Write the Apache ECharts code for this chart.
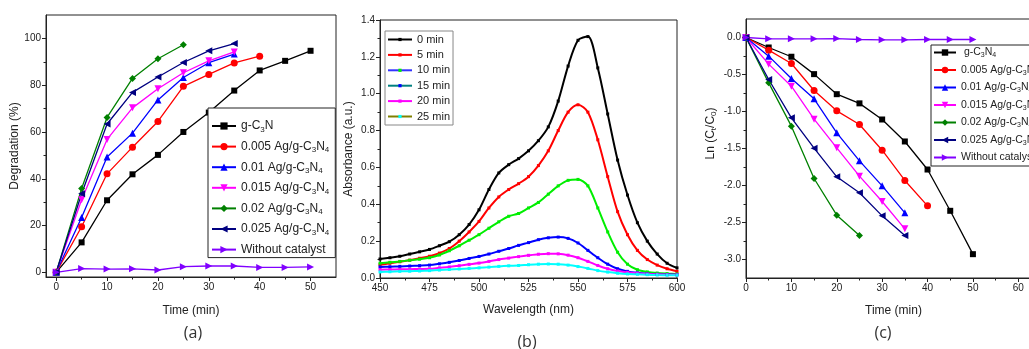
<!DOCTYPE html>
<html><head><meta charset="utf-8">
<script src="https://cdn.jsdelivr.net/npm/echarts@6/dist/echarts.min.js"></script>
<style>html,body{margin:0;padding:0;background:#fff}#c{width:1029px;height:349px}</style>
</head><body><div id="c"></div>
<script>
// ---------- Panel (a): degradation (%) vs time ----------
const timeA = [0, 5, 10, 15, 20, 25, 30, 35, 40, 45, 50];
const namesA = ['g-C3N', '0.005 Ag/g-C3N4', '0.01 Ag/g-C3N4', '0.015 Ag/g-C3N4', '0.02 Ag/g-C3N4', '0.025 Ag/g-C3N4', 'Without catalyst'];
const degG     = [0, 12.8, 30.8, 41.9, 50.2, 60.0, 68.3, 77.7, 86.3, 90.4, 94.7];
const deg005   = [0, 19.5, 42.1, 53.5, 64.5, 79.5, 84.6, 89.5, 92.4];
const deg01    = [0, 23.4, 49.3, 59.5, 73.7, 83.3, 89.6, 93.3];
const deg015   = [0, 31.0, 56.8, 70.3, 78.5, 85.3, 90.4, 94.2];
const deg02    = [0, 35.8, 66.2, 82.9, 91.3, 97.3];
const deg025   = [0, 33.6, 63.4, 76.9, 83.5, 89.7, 94.7, 97.8];
const degNone  = [0, 1.6, 1.4, 1.5, 1.0, 2.4, 2.7, 2.7, 2.1, 2.1, 2.3];
const xTicksA = [0, 10, 20, 30, 40, 50];
const xMinorA = [5, 15, 25, 35, 45];
const yTicksA = [0, 20, 40, 60, 80, 100];
const yMinorA = [10, 30, 50, 70, 90];

// ---------- Panel (b): absorbance spectra ----------
const wavelength = [450,455,460,465,470,475,480,485,490,495,500,505,510,515,520,525,530,535,540,545,550,555,560,565,570,575,580,585,590,595,600];
const namesB = ['0 min', '5 min', '10 min', '15 min', '20 min', '25 min'];
const abs0  = [0.103,0.110,0.118,0.130,0.142,0.155,0.175,0.197,0.235,0.290,0.370,0.480,0.570,0.615,0.648,0.690,0.745,0.820,0.960,1.150,1.290,1.310,1.140,0.890,0.640,0.450,0.300,0.200,0.130,0.080,0.055];
const abs5  = [0.072,0.080,0.088,0.097,0.107,0.118,0.135,0.160,0.200,0.250,0.307,0.380,0.440,0.480,0.512,0.550,0.610,0.690,0.800,0.900,0.940,0.900,0.750,0.550,0.360,0.235,0.150,0.100,0.070,0.050,0.036];
const abs10 = [0.080,0.085,0.090,0.096,0.102,0.110,0.125,0.148,0.175,0.205,0.235,0.270,0.305,0.335,0.350,0.380,0.410,0.455,0.500,0.530,0.535,0.500,0.380,0.250,0.140,0.075,0.045,0.033,0.027,0.024,0.022];
const abs15 = [0.060,0.061,0.063,0.065,0.067,0.070,0.077,0.085,0.095,0.106,0.117,0.130,0.145,0.160,0.177,0.192,0.208,0.218,0.222,0.215,0.190,0.150,0.110,0.075,0.050,0.036,0.028,0.023,0.020,0.019,0.018];
const abs20 = [0.045,0.046,0.047,0.048,0.049,0.050,0.055,0.060,0.067,0.074,0.081,0.090,0.100,0.108,0.116,0.123,0.129,0.132,0.131,0.124,0.110,0.090,0.068,0.050,0.038,0.031,0.026,0.022,0.020,0.018,0.017];
const abs25 = [0.033,0.034,0.036,0.037,0.038,0.040,0.043,0.046,0.049,0.052,0.055,0.059,0.063,0.066,0.068,0.072,0.075,0.076,0.075,0.070,0.062,0.052,0.040,0.032,0.026,0.022,0.020,0.018,0.016,0.015,0.015];

// ---------- Panel (c): ln(Ct/C0) vs time ----------
const namesC = ['g-C3N4', '0.005 Ag/g-C3N4', '0.01 Ag/g-C3N4', '0.015 Ag/g-C3N4', '0.02 Ag/g-C3N4', '0.025 Ag/g-C3N4', 'Without catalyst'];
const lnG    = [0, -0.135, -0.26, -0.495, -0.766, -0.89, -1.108, -1.405, -1.784, -2.342, -2.928];
const ln005  = [0, -0.171, -0.351, -0.716, -0.991, -1.176, -1.523, -1.932, -2.275];
const ln01   = [0, -0.252, -0.554, -0.829, -1.288, -1.667, -2.005, -2.369];
const ln015  = [0, -0.36, -0.658, -1.104, -1.491, -1.874, -2.216, -2.586];
const ln02   = [0, -0.613, -1.198, -1.905, -2.401, -2.676];
const ln025  = [0, -0.568, -1.086, -1.495, -1.883, -2.099, -2.41, -2.676];
const lnNone = [0, -0.018, -0.018, -0.018, -0.014, -0.027, -0.032, -0.032, -0.027, -0.027, -0.027];
const yTicksC = [-3, -2.5, -2, -1.5, -1, -0.5, 0];
const yMinorC = [-2.75, -2.25, -1.75, -1.25, -0.75, -0.25];

const FONT = '"Liberation Sans", Arial, sans-serif';
const AX = '#222';
const colorsAC = ['#000000', '#ff0000', '#0000ff', '#ff00ff', '#008000', '#000080', '#8000ff'];
const symbolsAC = ['rect', 'circle', 'triangle', 'triangle', 'diamond', 'triangle', 'triangle'];
const rotAC = [0, 0, 0, 180, 0, 90, -90];

function richName(name) {
  let out = '', re = /([CN])(\d)/g, last = 0, m;
  while ((m = re.exec(name))) {
    out += '{n|' + name.slice(last, m.index + 1) + '}{s|' + m[2] + '}';
    last = m.index + 2;
  }
  if (last < name.length) out += '{n|' + name.slice(last) + '}';
  return out;
}
function pairs(xs, ys) { return ys.map((v, i) => [xs[i], v]); }

const seriesA = [degG, deg005, deg01, deg015, deg02, deg025, degNone].map((d, i) => ({
  name: namesA[i], type: 'line', xAxisIndex: 0, yAxisIndex: 0,
  data: pairs(timeA, d), symbol: symbolsAC[i], symbolRotate: rotAC[i],
  symbolSize: i === 0 ? 6 : 7, itemStyle: { color: colorsAC[i] },
  lineStyle: { color: colorsAC[i], width: 1.3 }, animation: false
}));
const seriesC = [lnG, ln005, ln01, ln015, ln02, ln025, lnNone].map((d, i) => ({
  name: namesC[i], type: 'line', xAxisIndex: 3, yAxisIndex: 3,
  data: pairs(timeA, d), symbol: symbolsAC[i], symbolRotate: rotAC[i],
  symbolSize: i === 0 ? 6 : 7, itemStyle: { color: colorsAC[i] },
  lineStyle: { color: colorsAC[i], width: 1.3 }, animation: false
}));
const colorsB = ['#000000', '#ff0000', '#00ee00', '#0000ff', '#ff00ff', '#00ffff'];
const seriesB = [abs0, abs5, abs10, abs15, abs20, abs25].map((d, i) => ({
  name: namesB[i], type: 'line', xAxisIndex: 2, yAxisIndex: 2, smooth: 0.3,
  data: pairs(wavelength, d), symbol: 'rect', symbolSize: 3,
  itemStyle: { color: colorsB[i] }, lineStyle: { color: colorsB[i], width: 2 }, animation: false
}));
const legendB = [
  { name: '0 min', lineStyle: { color: '#000000' }, itemStyle: { color: '#000000' } },
  { name: '5 min', lineStyle: { color: '#ff0000' }, itemStyle: { color: '#ff0000' } },
  { name: '10 min', lineStyle: { color: '#3333ff' }, itemStyle: { color: '#00ee00' } },
  { name: '15 min', lineStyle: { color: '#008080' }, itemStyle: { color: '#0000ff' } },
  { name: '20 min', lineStyle: { color: '#ff00ff' }, itemStyle: { color: '#ff00ff' } },
  { name: '25 min', lineStyle: { color: '#808000' }, itemStyle: { color: '#00ffff' } }
];

function baseAxis(extra) {
  return Object.assign({
    type: 'value', splitLine: { show: false },
    axisLine: { show: true, onZero: false, lineStyle: { color: AX, width: 1 } },
    axisTick: { show: true, length: 4, lineStyle: { color: AX } },
    axisLabel: { color: AX, fontSize: 10, fontFamily: FONT, margin: 5 },
    nameTextStyle: { color: AX, fontSize: 12, fontFamily: FONT },
    nameLocation: 'middle'
  }, extra);
}
function minorAxis(extra, ticks) {
  return Object.assign({
    type: 'value', splitLine: { show: false },
    axisLine: { show: false, onZero: false },
    axisLabel: { show: false },
    axisTick: { show: true, length: 2.5, lineStyle: { color: AX }, customValues: ticks }
  }, extra);
}

const subRich = (fs, lh) => ({
  n: { fontSize: fs, fontFamily: FONT, color: AX, lineHeight: lh },
  s: { fontSize: Math.round(fs * 0.68), fontFamily: FONT, color: AX, verticalAlign: 'bottom', lineHeight: Math.round(fs * 0.68) }
});

const option = {
  backgroundColor: '#fff',
  animation: false,
  grid: [
    { left: 46, top: 15, width: 290, height: 262, show: true, borderColor: AX, borderWidth: 1, outerBoundsMode: 'none', containLabel: false },
    { left: 380, top: 20, width: 297, height: 258, show: true, borderColor: AX, borderWidth: 1, outerBoundsMode: 'none', containLabel: false },
    { left: 746, top: 19, width: 295, height: 259, show: true, borderColor: AX, borderWidth: 1, outerBoundsMode: 'none', containLabel: false }
  ],
  xAxis: [
    baseAxis({ gridIndex: 0, min: -2, max: 55, name: 'Time (min)', nameGap: 28,
      axisLabel: { color: AX, fontSize: 10, fontFamily: FONT, margin: 5, customValues: xTicksA },
      axisTick: { show: true, length: 4, lineStyle: { color: AX }, customValues: xTicksA } }),
    minorAxis({ gridIndex: 0, min: -2, max: 55, position: 'bottom' }, xMinorA),
    baseAxis({ gridIndex: 1, min: 450, max: 600, interval: 25, name: 'Wavelength (nm)', nameGap: 26,
      minorTick: { show: true, splitNumber: 2, length: 2.5, lineStyle: { color: AX } } }),
    baseAxis({ gridIndex: 2, min: 0, max: 65, interval: 10, name: 'Time (min)', nameGap: 27,
      minorTick: { show: true, splitNumber: 2, length: 2.5, lineStyle: { color: AX } } })
  ],
  yAxis: [
    baseAxis({ gridIndex: 0, min: -2, max: 110, name: 'Degradation (%)', nameGap: 21,
      axisLabel: { color: AX, fontSize: 10, fontFamily: FONT, margin: 5, customValues: yTicksA },
      axisTick: { show: true, length: 4, lineStyle: { color: AX }, customValues: yTicksA } }),
    minorAxis({ gridIndex: 0, min: -2, max: 110, position: 'left' }, yMinorA),
    baseAxis({ gridIndex: 1, min: 0, max: 1.4, interval: 0.2, name: 'Absorbance (a.u.)', nameGap: 25,
      axisLabel: { color: AX, fontSize: 10, fontFamily: FONT, margin: 5, formatter: v => v.toFixed(1) },
      minorTick: { show: true, splitNumber: 2, length: 2.5, lineStyle: { color: AX } } }),
    baseAxis({ gridIndex: 2, min: -3.25, max: 0.25, name: '{n|Ln (C}{s|t}{n|/C}{s|0}{n|)}', nameGap: 28,
      nameTextStyle: { color: AX, fontSize: 12, fontFamily: FONT, padding: [0, 0, 0, 30], rich: subRich(12, 15) },
      axisLabel: { color: AX, fontSize: 10, fontFamily: FONT, margin: 5, customValues: yTicksC, formatter: v => v.toFixed(1) },
      axisTick: { show: true, length: 4, lineStyle: { color: AX }, customValues: yTicksC } }),
    minorAxis({ gridIndex: 2, min: -3.25, max: 0.25, position: 'left' }, yMinorC)
  ],
  legend: [
    { data: namesA, orient: 'vertical', left: 208, top: 108, selectedMode: false,
      backgroundColor: '#fff', borderColor: AX, borderWidth: 1, padding: [12, 6, 2, 3],
      itemWidth: 24, itemHeight: 9, itemGap: 7.1,
      formatter: richName, textStyle: { rich: subRich(12, 15) } },
    { data: legendB, orient: 'vertical', left: 385, top: 31, selectedMode: false,
      backgroundColor: '#fff', borderColor: '#888', borderWidth: 1, padding: [2, 3, 2, 2],
      itemWidth: 24, itemHeight: 4, itemGap: 2.4,
      textStyle: { color: AX, fontSize: 11, fontFamily: FONT, lineHeight: 13 } },
    { data: namesC, orient: 'vertical', left: 931, top: 45, selectedMode: false,
      backgroundColor: '#fff', borderColor: AX, borderWidth: 1, padding: [2, 3, 3, 2],
      itemWidth: 22, itemHeight: 8, itemGap: 5.5,
      formatter: n => (n === 'g-C3N4' ? '{n| }' : '') + richName(n), textStyle: { rich: subRich(10.5, 13) } }
  ],
  graphic: [
    { type: 'text', x: 193, y: 333, style: { text: '(a)', align: 'center', verticalAlign: 'middle', font: '16px "Open Sans", sans-serif', fill: '#333' } },
    { type: 'text', x: 527, y: 342, style: { text: '(b)', align: 'center', verticalAlign: 'middle', font: '16px "Open Sans", sans-serif', fill: '#333' } },
    { type: 'text', x: 883, y: 333, style: { text: '(c)', align: 'center', verticalAlign: 'middle', font: '16px "Open Sans", sans-serif', fill: '#333' } }
  ],
  series: [...seriesA, ...seriesB, ...seriesC]
};
const chart = echarts.init(document.getElementById('c'), null, { renderer: 'canvas' });
chart.setOption(option);
</script></body></html>
